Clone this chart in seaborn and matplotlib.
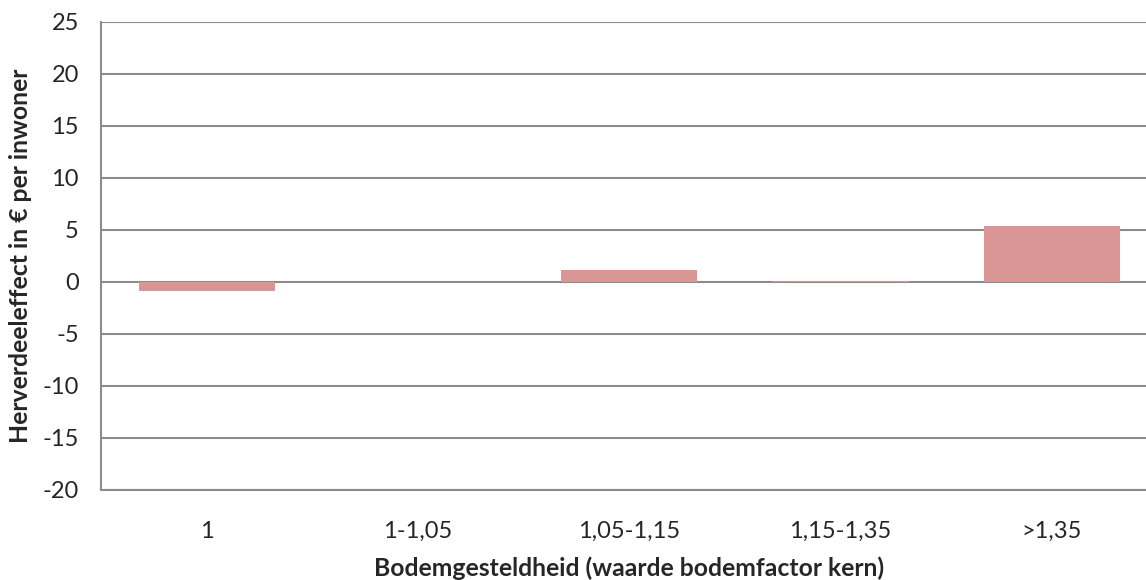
import matplotlib
matplotlib.use("Agg")
import matplotlib.pyplot as plt
import seaborn as sns
import pandas as pd

categories = ["1", "1-1,05", "1,05-1,15", "1,15-1,35", ">1,35"]
values = [-0.85, 0.0, 1.2, 0.1, 5.4]
yticks = [-20, -15, -10, -5, 0, 5, 10, 15, 20, 25]

sns.set_theme(style="white")
plt.rcParams['font.family'] = ['Lato', 'DejaVu Sans']

df = pd.DataFrame({"cat": categories, "val": values})

fig = plt.figure(figsize=(11.46, 5.8), dpi=100)
ax = fig.add_axes([101/1146, 1-490/580, 1-101/1146 + 0.01, (490-22)/580])

grid_c = "#8c8c8c"
for y in yticks:
    ax.axhline(y, color=grid_c, lw=1.5, zorder=0)

sns.barplot(data=df, x="cat", y="val", color="#D99694", saturation=1,
            width=0.645, ax=ax, zorder=2)
for p in ax.patches:
    p.set_edgecolor("none")

ax.set_ylim(-20, 25)
ax.set_xlim(-0.5, 4.5)
ax.set_yticks(yticks)
ax.set_yticklabels([str(v) for v in yticks], fontsize=17)
ax.set_xticks(range(len(categories)))
ax.set_xticklabels(categories, fontsize=17)
ax.tick_params(axis="x", length=0, pad=22)
ax.tick_params(axis="y", length=0, pad=16)

for s in ["top", "right"]:
    ax.spines[s].set_visible(False)
for s in ["left", "bottom"]:
    ax.spines[s].set_color(grid_c)
    ax.spines[s].set_linewidth(1.5)

ax.set_xlabel("Bodemgesteldheid (waarde bodemfactor kern)", fontsize=17.8, fontweight="bold", labelpad=11)
ax.set_ylabel("Herverdeeleffect in € per inwoner", fontsize=17.8, fontweight="bold", va="center")
ax.yaxis.set_label_coords(-80/1045, 0.5)

fig.savefig("out.png", dpi=100)
